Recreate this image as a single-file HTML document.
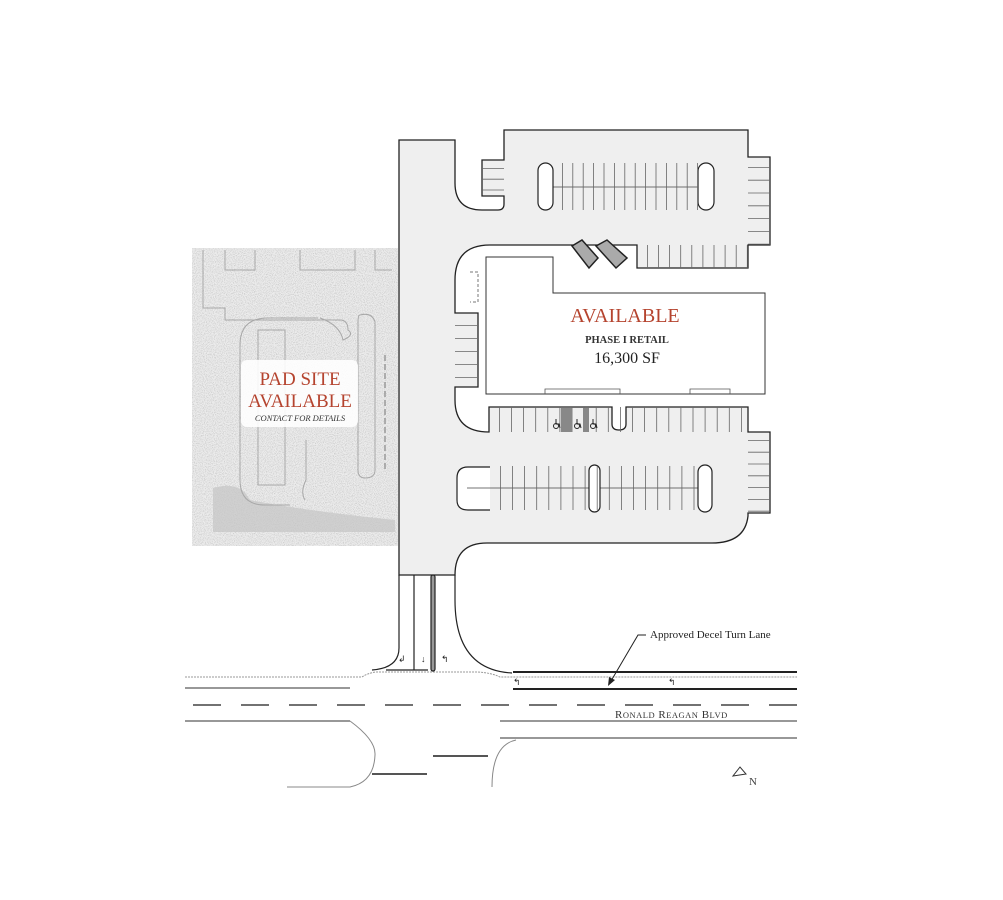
<!DOCTYPE html>
<html><head><meta charset="utf-8"><style>
html,body{margin:0;padding:0;background:#fff}
svg{display:block}
text{font-family:"Liberation Serif",serif}
</style></head><body>
<svg width="1003" height="900" viewBox="0 0 1003 900" xmlns="http://www.w3.org/2000/svg">
<defs>
<filter id="st" x="0" y="0" width="100%" height="100%">
<feTurbulence type="fractalNoise" baseFrequency="1.1" numOctaves="1" seed="3"/>
<feColorMatrix type="matrix" values="0 0 0 0 0.5  0 0 0 0 0.5  0 0 0 0 0.5  0 0 0 -2.2 1.25"/>
</filter>
</defs>

<!-- pad site -->
<rect x="192" y="248" width="206" height="298" fill="#ececec"/>
<rect x="192" y="248" width="206" height="298" filter="url(#st)"/>
<path d="M213,488 Q240,480 250,500 Q300,510 395,520 V532 H213 Z" fill="#c4c4c4" opacity="0.7"/>
<g fill="none" stroke="#a8a8a8" stroke-width="1">
<path d="M203,250 V308 H225 V320 H340 Q348,320 348,330 V330 Q355,335 343,340 Q340,325 320,318"/>
<path d="M225,250 V270 H255 V250 M300,250 V270 H355 V250 M375,250 V270 H392"/>
<path d="M318,318 H268 Q240,318 240,345 V480 Q240,505 265,505 H290"/>
<path d="M258,330 V485 H285 V330 Z"/>
<path d="M360,315 Q372,312 375,322 V470 Q375,478 365,478 Q358,478 358,470 V322 Q358,315 360,315"/>
<path d="M305,500 Q300,492 306,480 V440"/>
</g>
<path d="M385,355 V470" stroke="#999" stroke-width="1.5" stroke-dasharray="6 3"/>
<rect x="241" y="360" width="117" height="67" rx="6" fill="#fff" opacity="0.88"/>
<text x="300" y="385" font-size="19" fill="#b5442f" text-anchor="middle">PAD SITE</text>
<text x="300" y="407" font-size="19" fill="#b5442f" text-anchor="middle">AVAILABLE</text>
<text x="300" y="421" font-size="8.5" font-style="italic" fill="#333" text-anchor="middle">CONTACT FOR DETAILS</text>

<!-- pavement -->
<path d="M399,140 H455 V183 Q455,210 482,210 H498 Q504,210 504,204 V196 H482 V160 H504 V130 H748 V157 H770 V245 H748 V268 H637 V245 H490 Q455,245 455,280 V313 H478 V387 H455 V400 Q455,432 489,432 V407 H612 V424 Q612,430 619,430 Q626,430 626,424 V407 H748 V432 H770 V513 H748 V516 Q745,543 712,543 H487 Q455,543 455,575 H399 Z" fill="#efefef" stroke="#222" stroke-width="1.3"/>
<path d="M490,467 H468 Q457,467 457,478 V500 Q457,510 468,510 H490" fill="#fff" stroke="#222" stroke-width="1.2"/>
<path d="M467,488 H698" stroke="#444" stroke-width="0.8"/>
<path d="M553,187 H698" stroke="#444" stroke-width="0.8"/>
<rect x="538" y="163" width="15" height="47" rx="7.5" fill="#fff" stroke="#222" stroke-width="1.2"/>
<rect x="698" y="163" width="16" height="47" rx="8" fill="#fff" stroke="#222" stroke-width="1.2"/>
<rect x="589" y="465" width="11" height="47" rx="5.5" fill="#fff" stroke="#222" stroke-width="1.2"/>
<rect x="698" y="465" width="14" height="47" rx="7" fill="#fff" stroke="#222" stroke-width="1.2"/>
<g stroke="#666" fill="none">
<line x1="553" y1="186.5" x2="698" y2="186.5" stroke-width="47" stroke-dasharray="0.8 9.6" stroke-dashoffset="-9"/>
<line x1="637" y1="256.5" x2="748" y2="256.5" stroke-width="23" stroke-dasharray="0.8 10.3" stroke-dashoffset="-10"/>
<line x1="759" y1="157" x2="759" y2="245" stroke-width="22" stroke-dasharray="0.8 12" stroke-dashoffset="-10"/>
<line x1="493" y1="160" x2="493" y2="196" stroke-width="22" stroke-dasharray="0.8 10" stroke-dashoffset="-8"/>
<line x1="466" y1="313" x2="466" y2="387" stroke-width="22" stroke-dasharray="0.8 12.2" stroke-dashoffset="-12"/>
<line x1="489" y1="419.5" x2="748" y2="419.5" stroke-width="25" stroke-dasharray="0.8 11.3" stroke-dashoffset="-10"/>
<line x1="490" y1="488" x2="698" y2="488" stroke-width="44" stroke-dasharray="0.8 11.3" stroke-dashoffset="-10"/>
<line x1="759" y1="432" x2="759" y2="513" stroke-width="22" stroke-dasharray="0.8 11" stroke-dashoffset="-8"/>
</g>
<rect x="561" y="408" width="11" height="24" fill="#888"/>
<rect x="583" y="408" width="6" height="24" fill="#888"/>
<g fill="none" stroke="#222" stroke-width="1">
<circle cx="556" cy="426" r="2.5"/><path d="M556,419 V424 H559 L560,428"/>
<circle cx="577" cy="426" r="2.5"/><path d="M577,419 V424 H580 L581,428"/>
<circle cx="593" cy="426" r="2.5"/><path d="M593,419 V424 H596 L597,428"/>
</g>
<g fill="#aaa" stroke="#222" stroke-width="1.5">
<path d="M572,246 L582,240 L598,258 L589,268 Z"/>
<path d="M596,246 L607,240 L627,258 L616,268 Z"/>
</g>
<path d="M486,257 H553 V293 H765 V394 H486 Z" fill="#fff" stroke="#333" stroke-width="1"/>
<path d="M545,394 V389 H620 V394 M690,394 V389 H730 V394" fill="none" stroke="#555" stroke-width="0.8"/>
<path d="M470,272 H478 V302 H470" fill="none" stroke="#777" stroke-dasharray="3 2"/>
<text x="625" y="322" font-size="20" fill="#b5442f" text-anchor="middle">AVAILABLE</text>
<text x="627" y="343" font-size="10.5" font-weight="bold" fill="#333" text-anchor="middle">PHASE I RETAIL</text>
<text x="627" y="363" font-size="16" fill="#222" text-anchor="middle">16,300 SF</text>

<g fill="none" stroke="#222" stroke-width="1.2">
<path d="M399,575 V648 Q399,668 372,670"/>
<path d="M455,575 V600 Q455,670 512,673"/>
<path d="M414,575 V670"/>
<path d="M386,670 H428"/>
<rect x="431" y="575" width="4" height="96" rx="2" fill="#999"/>
</g>
<g fill="none">
<path d="M185,677 H362 Q368,673 376,672 H478 Q492,673 500,677 H797" stroke="#999" stroke-dasharray="2 1" stroke-width="1"/>
<path d="M185,688 H350" stroke="#777" stroke-width="1.5"/>
<path d="M513,672 H797 M513,689 H797" stroke="#222" stroke-width="2"/>
<path d="M193,705 H797" stroke="#444" stroke-width="1.6" stroke-dasharray="28 20"/>
<path d="M185,721 H350" stroke="#777" stroke-width="1.5"/>
<path d="M500,721 H797 M500,738 H797" stroke="#777" stroke-width="1.5"/>
<path d="M350,721 Q376,740 375,755 Q374,782 350,787 H287" stroke="#888" stroke-width="1"/>
<path d="M516,740 Q492,745 492,787" stroke="#888" stroke-width="1"/>
<path d="M372,774 H427 M433,756 H488" stroke="#555" stroke-width="2"/>
</g>
<text x="615" y="718" font-size="11" fill="#333" letter-spacing="0.5">R<tspan font-size="8.5">ONALD</tspan> R<tspan font-size="8.5">EAGAN</tspan> B<tspan font-size="8.5">LVD</tspan></text>
<text x="650" y="638" font-size="11" fill="#222">Approved Decel Turn Lane</text>
<path d="M646,635 H638 L611,681" stroke="#222" stroke-width="1" fill="none"/>
<path d="M608,686 L609,677 L615,680 Z" fill="#222"/>
<g font-size="9" fill="#222" font-family="DejaVu Sans">
<text x="398" y="662">↲</text><text x="421" y="662">↓</text><text x="441" y="662">↰</text>
<text x="513" y="685">↰</text><text x="668" y="685">↰</text>
</g>
<path d="M733,776 L746,774 L740,767 Z" fill="none" stroke="#333"/>
<text x="749" y="785" font-size="11" fill="#444">N</text>
</svg>
</body></html>
